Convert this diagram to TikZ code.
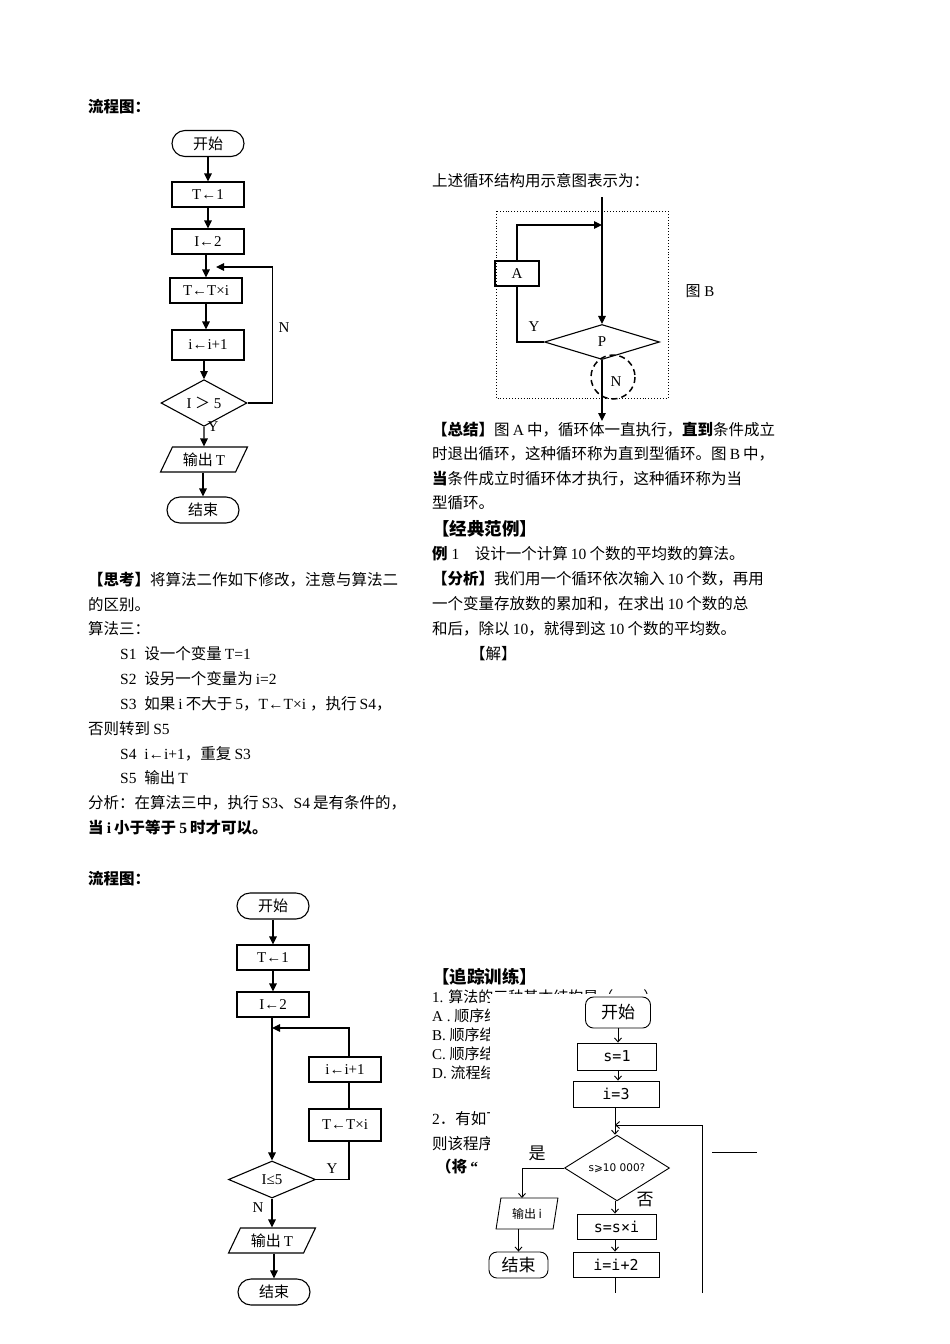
\documentclass[tikz,border=0pt]{standalone}
\usepackage{fontspec}
\setmainfont{Liberation Serif}
\newfontfamily\cjk{Noto Sans CJK SC}
\newfontfamily\dvsans{DejaVu Sans}
\newfontfamily\dvmono{DejaVu Sans Mono}
\usetikzlibrary{arrows.meta,shapes.geometric}

% switch to the CJK family between Han characters and Latin ones
\newXeTeXintercharclass\hanclass
\newXeTeXintercharclass\puncclass
\newcount\cjkcnt
\def\mysetclass#1#2#3{\cjkcnt=#1 \loop\XeTeXcharclass\cjkcnt=#3 \ifnum\cjkcnt<#2 \advance\cjkcnt by 1 \repeat}
\mysetclass{"4E00}{"9FFF}{\hanclass}
\mysetclass{"3000}{"303F}{\puncclass}
\mysetclass{"FF00}{"FFEF}{\puncclass}
\def\latinfam{\rmfamily}
\XeTeXinterchartoks 0 \hanclass = {\hskip.2em\cjk}
\XeTeXinterchartoks 4095 \hanclass = {\cjk}
\XeTeXinterchartoks 0 \puncclass = {\cjk}
\XeTeXinterchartoks 4095 \puncclass = {\cjk}
\XeTeXinterchartoks \puncclass \hanclass = {\cjk}
\XeTeXinterchartoks \hanclass \puncclass = {\cjk}
\XeTeXinterchartoks \hanclass 0 = {\hskip.2em\latinfam}
\XeTeXinterchartoks \puncclass 0 = {\latinfam}
\XeTeXinterchartoks \hanclass 4095 = {\latinfam}
\XeTeXinterchartoks \puncclass 4095 = {\latinfam}
\XeTeXinterchartokenstate=1

\tikzset{
  txt/.style={anchor=base west, inner sep=0pt, font=\fontsize{15.5}{18}\selectfont},
  head/.style={anchor=base west, inner sep=0pt, font=\fontsize{17.5}{20}\selectfont\bfseries},
  lbl/.style={inner sep=0pt, font=\fontsize{15}{18}\selectfont},
  pbox/.style={draw, line width=1.1pt, minimum width=72, minimum height=25, inner sep=0pt, font=\fontsize{15}{18}\selectfont},
  term/.style={pbox, rounded corners=13pt, minimum height=26},
  dec/.style={pbox, diamond, minimum width=86, minimum height=36},
  io/.style={pbox, trapezium, trapezium left angle=60, trapezium right angle=120, trapezium stretches=true, minimum width=87},
  arr/.style={line width=1.1pt, -{Triangle[length=8pt,width=7.5pt]}},
  sbox/.style={draw, line width=0.9pt, inner sep=0pt, font=\dvmono\fontsize{15}{18}\selectfont},
  sterm/.style={sbox, rounded corners=8pt, font=\fontsize{17}{20}\selectfont},
  sdec/.style={sbox, diamond, minimum width=105, minimum height=62, font=\dvsans\fontsize{10.5}{12}\selectfont},
  sio/.style={sbox, trapezium, trapezium left angle=76, trapezium right angle=104, trapezium stretches=true, font=\fontsize{12}{14}\selectfont\def\latinfam{\dvsans}},
  barb/.style={line width=0.9pt, -{Straight Barb[length=4pt,width=7pt]}},
}

\begin{document}
\begin{tikzpicture}[x=1pt, y=-1pt]
\useasboundingbox (0,0) rectangle (950,1344);

% first flow chart
\node[txt] (h1) at (88,112) {\bfseries 流程图：};
\node[term] (s1) at (208,143.5) {开始};
\node[pbox] (a1) at (208,194.5) {T←1};
\node[pbox] (b1) at (208,241.5) {I←2};
\node[pbox] (c1) at (206,290.5) {T←T×i};
\node[pbox, minimum height=30] (d1) at (208,345) {i←i+1};
\node[dec] (e1) at (204,403) {I ＞ 5};
\node[io] (f1) at (204,459.5) {输出T};
\node[term] (g1) at (203,510) {结束};
\coordinate (j1) at (216,267);
\node[lbl] (n1) at (284,328) {N};
\node[lbl] (y1) at (213,427) {Y};
\draw[arr] (s1) -- (a1);
\draw[arr] (a1) -- (b1);
\draw[arr] (c1 |- b1.south) -- (c1.north);
\draw[arr] (c1) -- (c1 |- d1.north);
\draw[arr] (e1 |- d1.south) -- (e1.north);
\draw[arr] (e1) -- (f1);
\draw[arr] (g1 |- f1.south) -- (g1.north);
\draw[arr] (e1.east) -- ++(25,0) |- (j1);

% figure B
\node[txt] (r0) at (432,186) {上述循环结构用示意图表示为：};
\draw[dotted, line width=0.9pt] (496,211) rectangle (668,398);
\node[pbox, minimum width=44] (A) at (517,273.5) {A};
\node[dec, minimum width=115, minimum height=35] (P) at (602,342) {P};
\coordinate (inB) at (602,197);
\coordinate (jB) at (602,225);
\coordinate (outB) at (602,421);
\draw[arr] (inB) -- (P.north);
\draw[arr] (A.north) |- (jB);
\draw[line width=1.1pt] (A.south) |- (P.west);
\draw[arr] (P.south) -- (outB);
\draw[line width=1.5pt, dash pattern=on 6pt off 4pt] (613,377) circle (22);
\node[lbl] (yB) at (534,327) {Y};
\node[lbl] (nB) at (616,382) {N};
\node[lbl] (figB) at (700,291) {图 B};

% right column
\node[txt] (r1) at (432,435) {\bfseries【总结】\mdseries 图A中，循环体一直执行，\bfseries 直到\mdseries 条件成立};
\node[txt] (r2) at (432,459) {时退出循环，这种循环称为直到型循环。图B中，};
\node[txt] (r3) at (432,484) {\bfseries 当\mdseries 条件成立时循环体才执行，这种循环称为当};
\node[txt] (r4) at (432,508) {型循环。};
\node[head] (r5) at (432,535) {【经典范例】};
\node[txt] (r6) at (432,559) {\bfseries 例\mdseries\ 1　设计一个计算10个数的平均数的算法。};
\node[txt] (r7) at (432,584) {\bfseries【分析】\mdseries 我们用一个循环依次输入10个数，再用};
\node[txt] (r8) at (432,609) {一个变量存放数的累加和，在求出10个数的总};
\node[txt] (r9) at (432,634) {和后，除以10，就得到这10个数的平均数。};
\node[txt] (r10) at (470,659) {【解】};

% left column
\node[txt] (l1) at (88,585) {\bfseries【思考】\mdseries 将算法二作如下修改，注意与算法二};
\node[txt] (l2) at (88,610) {的区别。};
\node[txt] (l3) at (88,634) {算法三：};
\node[txt] (l4) at (120,659) {S1\ \ 设一个变量T=1};
\node[txt] (l5) at (120,684) {S2\ \ 设另一个变量为i=2};
\node[txt] (l6) at (120,709) {S3\ \ 如果i不大于5，T←T×i ，执行S4，};
\node[txt] (l7) at (88,734) {否则转到S5};
\node[txt] (l8) at (120,759) {S4\ \ i←i+1，重复S3};
\node[txt] (l9) at (120,783) {S5\ \ 输出T};
\node[txt] (l10) at (88,808) {分析：在算法三中，执行S3、S4是有条件的，};
\node[txt] (l11) at (88,833) {\bfseries 当i小于等于5时才可以。};

% second flow chart
\node[txt] (h2) at (88,884) {\bfseries 流程图：};
\node[term] (s2) at (273,906) {开始};
\node[pbox] (a2) at (273,957.5) {T←1};
\node[pbox] (b2) at (273,1004.5) {I←2};
\node[pbox] (c2) at (345,1069.5) {i←i+1};
\node[pbox, minimum height=32] (d2) at (345,1125) {T←T×i};
\node[dec, minimum width=87, minimum height=37] (e2) at (272,1179.5) {I≤5};
\node[io] (f2) at (272,1240.5) {输出T};
\node[term] (g2) at (274,1292) {结束};
\coordinate (l2) at (349,1028);
\coordinate (j2) at (272,1028);
\draw[arr] (s2) -- (a2);
\draw[arr] (a2) -- (b2);
\draw[arr] (e2 |- b2.south) -- (e2.north);
\draw[arr] (e2) -- (f2);
\draw[arr] (g2 |- f2.south) -- (g2.north);
\draw[line width=1.1pt] (e2.east) -| (l2 |- d2.south);
\draw[line width=1.1pt] (l2 |- d2.north) -- (l2 |- c2.south);
\draw[arr] (l2 |- c2.north) -- (l2) -- (j2);
\node[lbl] (y2) at (332,1169) {Y};
\node[lbl] (n2) at (258,1208) {N};

% exercises, partly hidden by the chart
\node[head] (t0) at (432,983) {【追踪训练】};
\node[txt, font=\fontsize{15}{18}\selectfont] (t1) at (432,1002) {1. 算法的三种基本结构是（　　）};
\node[txt, font=\fontsize{15}{18}\selectfont] (t2) at (432,1021) {A . 顺序结};
\node[txt, font=\fontsize{15}{18}\selectfont] (t3) at (432,1040) {B. 顺序结};
\node[txt, font=\fontsize{15}{18}\selectfont] (t4) at (432,1059) {C. 顺序结};
\node[txt, font=\fontsize{15}{18}\selectfont] (t5) at (432,1078) {D. 流程结};
\node[txt] (t6) at (432,1124) {2．有如下};
\node[txt] (t7) at (432,1149) {则该程序};
\node[txt] (t8) at (436,1172) {\bfseries（将“};
\fill[white] (490,994) rectangle (706,1300);
\draw[line width=0.9pt] (712,1152) -- (757,1152);

% third flow chart
\node[sterm, minimum width=65, minimum height=31] (s3) at (618,1012.5) {开始};
\node[sbox, minimum width=79, minimum height=27] (a3) at (617,1056.5) {s=1};
\node[sbox, minimum width=86, minimum height=26] (b3) at (616,1094) {i=3};
\node[sdec] (e3) at (617,1168) {s⩾10 000?};
\node[sio, minimum width=62, minimum height=31] (f3) at (527,1213.5) {输出i};
\node[sterm, minimum width=59, minimum height=26] (g3) at (518.5,1265) {结束};
\node[sbox, minimum width=79, minimum height=25] (c3) at (616.5,1226.5) {s=s×i};
\node[sbox, minimum width=86, minimum height=25] (d3) at (616,1264.5) {i=i+2};
\node[lbl, font=\fontsize{17}{20}\selectfont] (yes3) at (537,1153) {是};
\node[lbl, font=\fontsize{17}{20}\selectfont] (no3) at (645,1200) {否};
\coordinate (j3) at (615,1125);
\coordinate (r3) at (702,1293);
\coordinate (k3) at (522,1198);
\draw[barb] (s3) -- (s3 |- a3.north);
\draw[barb] (s3 |- a3.south) -- (s3 |- b3.north);
\draw[barb] (j3 |- b3.south) -- (j3 |- e3.north);
\draw[barb] (j3 |- e3.south) -- (j3 |- c3.north);
\draw[barb] (j3 |- c3.south) -- (j3 |- d3.north);
\draw[line width=0.9pt] (j3 |- d3.south) -- (j3 |- r3);
\draw[barb] (r3) |- (j3);
\draw[barb] (e3.west) -| (k3);
\draw[barb] (g3 |- f3.south) -- (g3.north);
\end{tikzpicture}
\end{document}
